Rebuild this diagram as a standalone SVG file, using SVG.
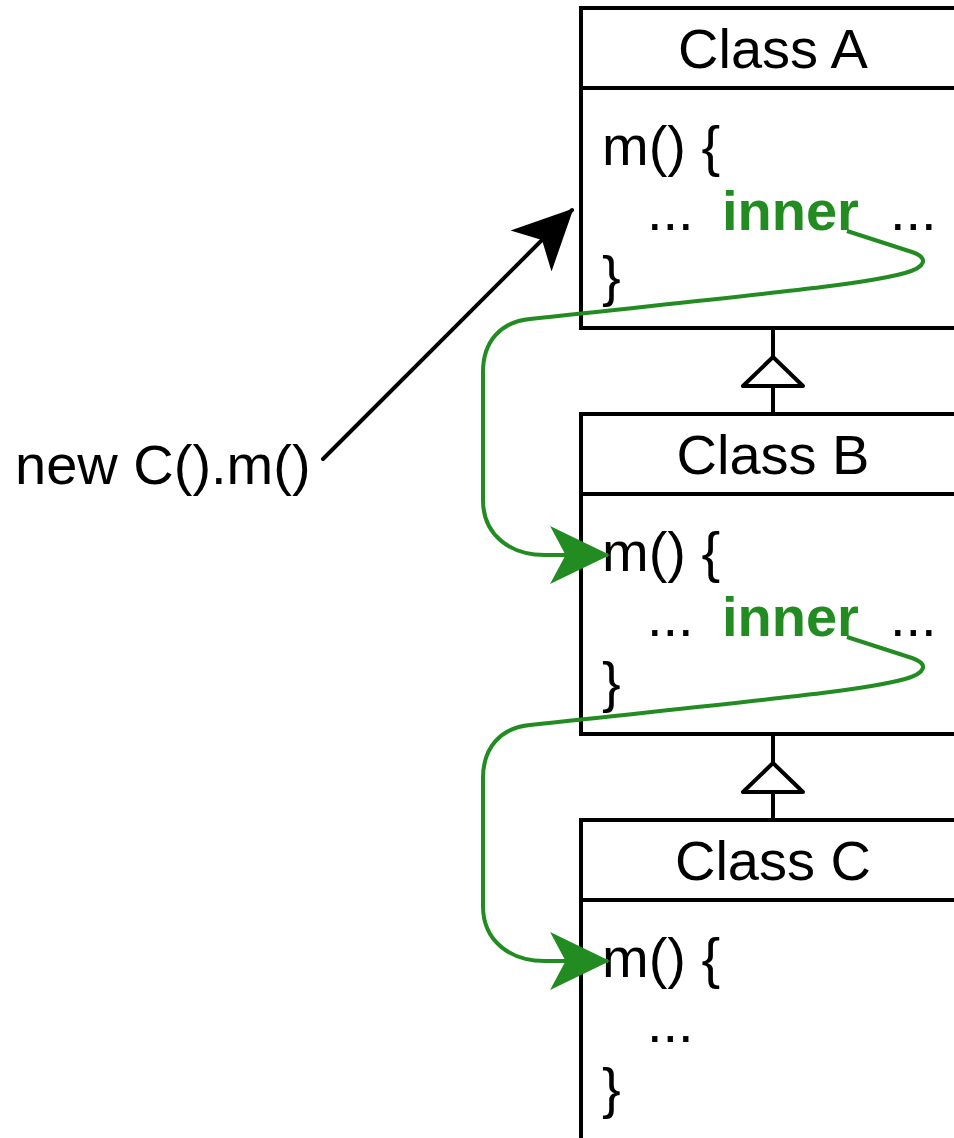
<svg xmlns="http://www.w3.org/2000/svg" width="954" height="1138" viewBox="0 0 954 1138">
<style>
.box{fill:#fff;stroke:#000;stroke-width:4;}
.div{stroke:#000;stroke-width:4;}
.t{font-family:"Liberation Sans",Arial,sans-serif;font-size:56px;fill:#000;}
.hd{text-anchor:middle;}
.kw{font-weight:bold;fill:#228B22;}
.inh{fill:none;stroke:#000;stroke-width:4;stroke-linejoin:round;}
.tri{fill:#fff;stroke:#000;stroke-width:4;stroke-linejoin:round;}
.gr{fill:none;stroke:#228B22;stroke-width:4;stroke-linejoin:round;}
.bk{fill:none;stroke:#000;stroke-width:4;stroke-linecap:round;}
</style>
<defs>
<marker id="ahG" markerUnits="userSpaceOnUse" markerWidth="60" markerHeight="60" viewBox="0 0 58 56" refX="56" refY="28" orient="auto">
<path d="M0 0 L58 28 L0 56 L15 28 Z" fill="#228B22"/>
</marker>
<marker id="ahB" markerUnits="userSpaceOnUse" markerWidth="60" markerHeight="60" viewBox="0 0 58 56" refX="56" refY="28" orient="auto">
<path d="M0 0 L58 28 L0 56 L15 28 Z" fill="#000"/>
</marker>
</defs>

<g id="classA">
<rect class="box" x="581" y="8" width="400" height="320"/>
<line class="div" x1="581" y1="88" x2="981" y2="88"/>
<text class="t hd" x="773" y="68">Class A</text>
<text class="t" x="602" y="165">m() {</text>
<text class="t" x="647" y="230">...</text>
<text class="t kw" x="722" y="230">inner</text>
<text class="t" x="890" y="230">...</text>
<text class="t" x="602" y="295">}</text>
</g>

<g id="classB">
<rect class="box" x="581" y="414" width="400" height="320"/>
<line class="div" x1="581" y1="494" x2="981" y2="494"/>
<text class="t hd" x="773" y="474">Class B</text>
<text class="t" x="602" y="571">m() {</text>
<text class="t" x="647" y="636">...</text>
<text class="t kw" x="722" y="636">inner</text>
<text class="t" x="890" y="636">...</text>
<text class="t" x="602" y="701">}</text>
</g>

<g id="classC">
<rect class="box" x="581" y="820" width="400" height="320"/>
<line class="div" x1="581" y1="900" x2="981" y2="900"/>
<text class="t hd" x="773" y="880">Class C</text>
<text class="t" x="602" y="977">m() {</text>
<text class="t" x="647" y="1042">...</text>
<text class="t" x="602" y="1107">}</text>
</g>

<g id="caller">
<text class="t" x="15" y="484">new C().m()</text>
</g>

<g id="connectors">
<line class="inh" x1="773" y1="328" x2="773" y2="357"/>
<line class="inh" x1="773" y1="386" x2="773" y2="414"/>
<polygon class="tri" points="773,357 743,386 803,386"/>
<line class="inh" x1="773" y1="734" x2="773" y2="763"/>
<line class="inh" x1="773" y1="792" x2="773" y2="820"/>
<polygon class="tri" points="773,763 743,792 803,792"/>
<line class="bk" x1="323" y1="459" x2="572" y2="210" marker-end="url(#ahB)"/>
<path class="gr" d="M847 231 L912 252 C929 258 926 267 905 273 C860 285 780 292 530 319 C500 322 483 342 483 372 L483 500 C483 535 510 555 545 555 L608 555" marker-end="url(#ahG)"/>
<path class="gr" d="M847 637 L912 658 C929 664 926 673 905 679 C860 691 780 698 530 725 C500 728 483 748 483 778 L483 906 C483 941 510 961 545 961 L608 961" marker-end="url(#ahG)"/>
</g>
</svg>
